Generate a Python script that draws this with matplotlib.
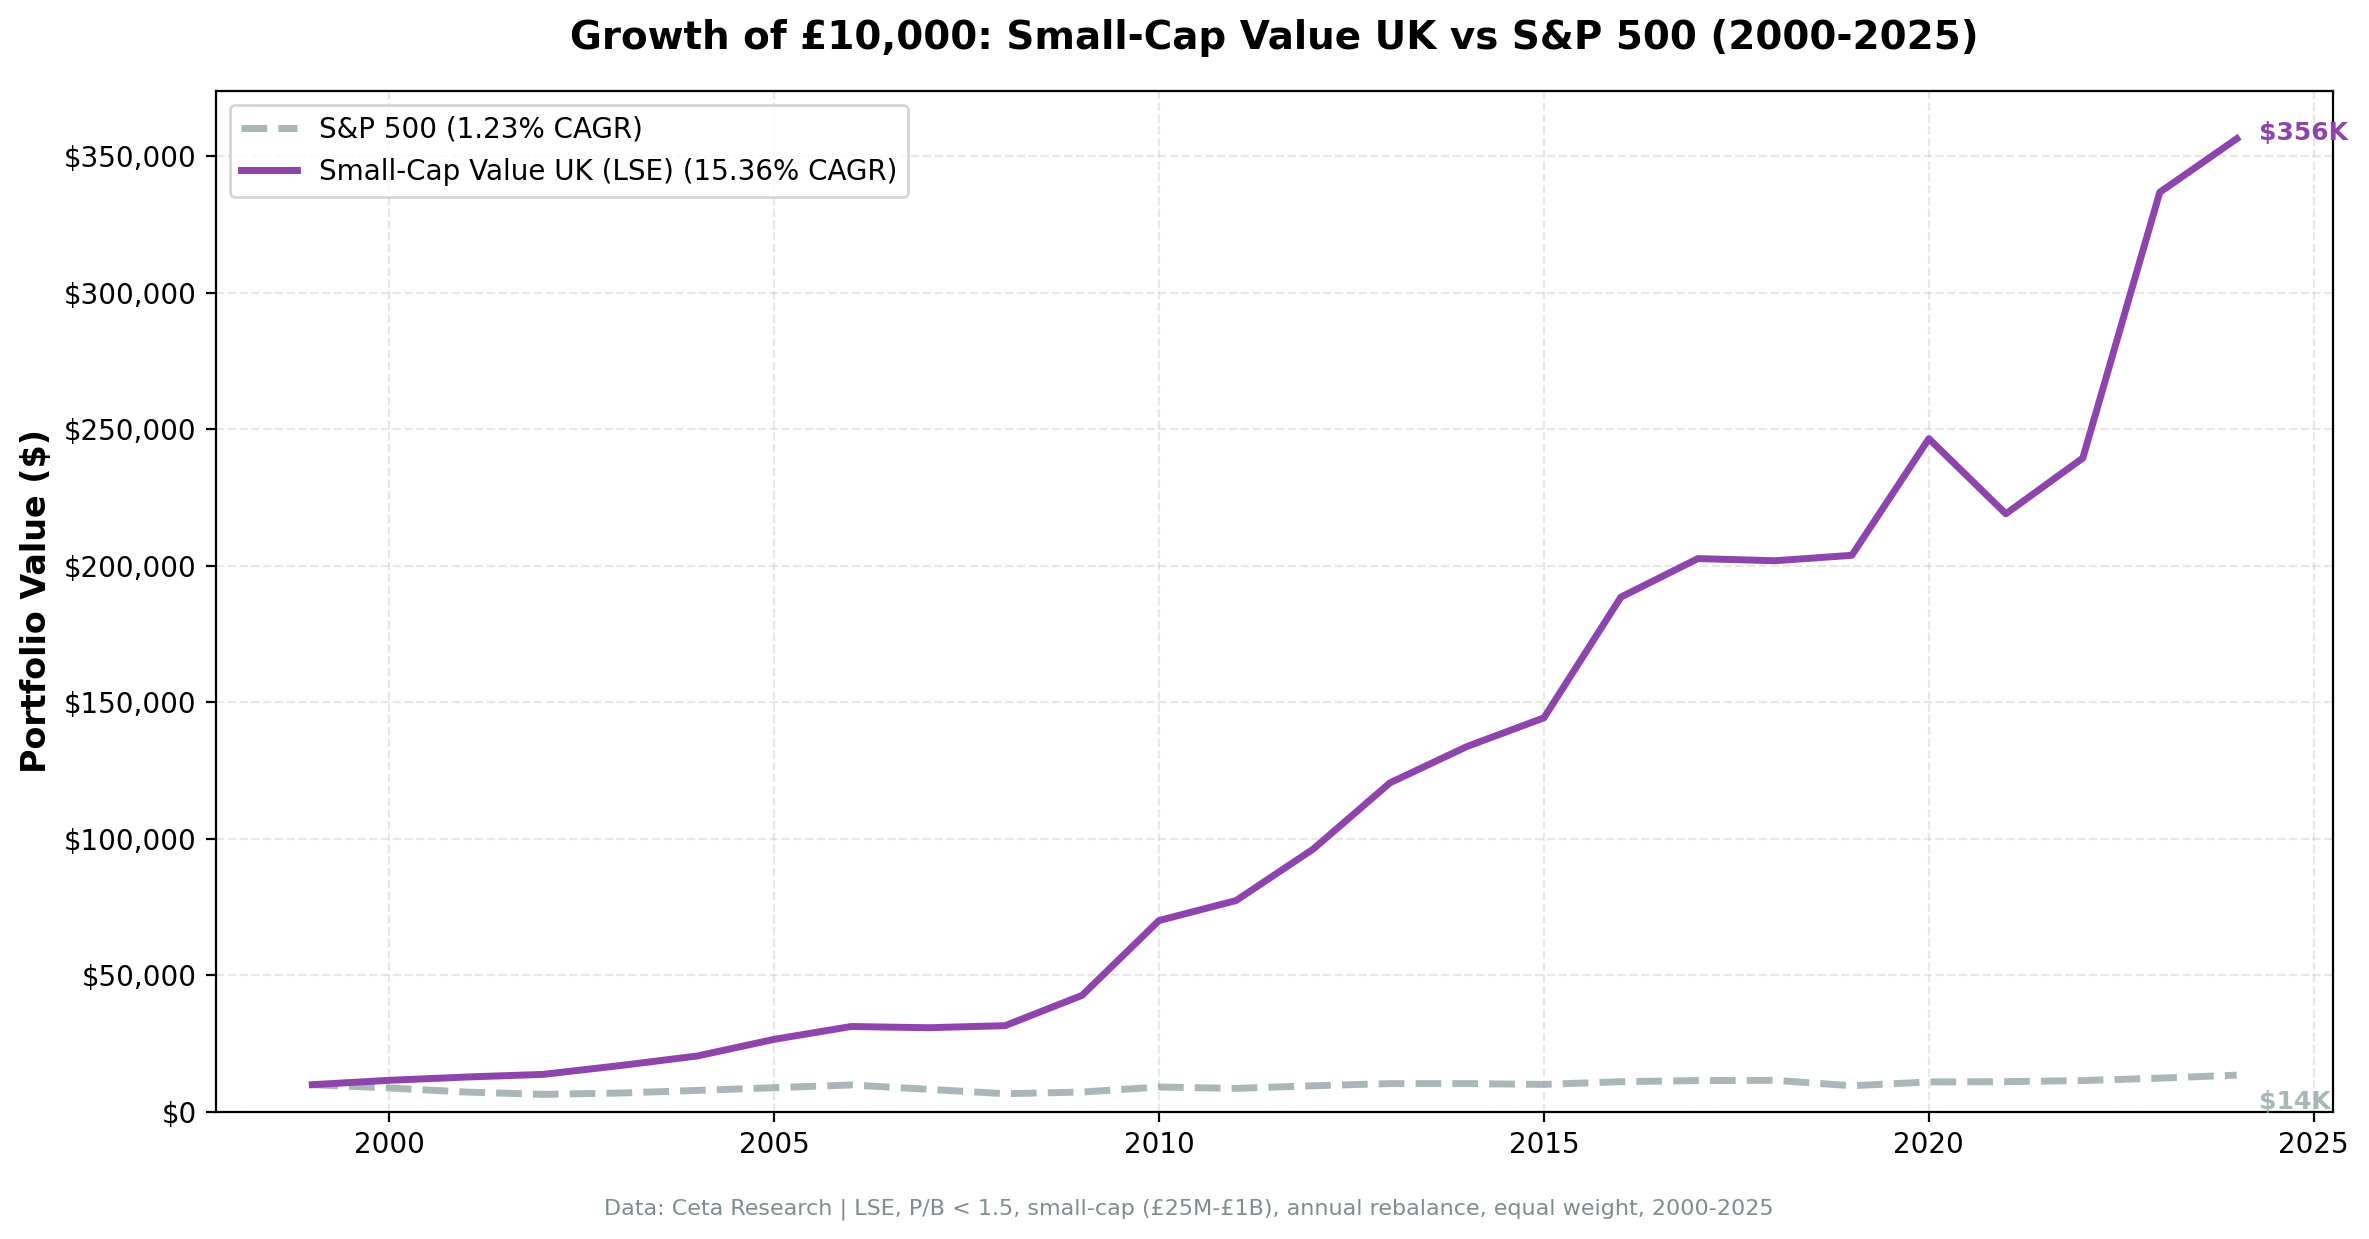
import matplotlib.pyplot as plt
from matplotlib.ticker import FuncFormatter

years = list(range(1999, 2025))
sp500 = [10000, 8800, 7300, 6460, 6950, 7900, 8900, 9900, 8300, 6700, 7300, 9150,
         8650, 9600, 10400, 10400, 10100, 11100, 11500, 11600, 9600, 11000, 11100,
         11500, 12400, 13500]
ukscv = [10000, 11600, 12800, 13780, 17000, 20500, 26600, 31300, 30850, 31600, 42700,
         70100, 77400, 96200, 120500, 133800, 144300, 188500, 202600, 201800, 203800,
         246500, 219000, 239400, 336700, 356300]

sp_label = 'S&P 500 (1.23% CAGR)'
uk_label = 'Small-Cap Value UK (LSE) (15.36% CAGR)'
purple = '#8E44AD'
grey = '#95A5A6'

fig = plt.figure(figsize=(11.845, 6.195), dpi=200)
fig.subplots_adjust(left=0.0912, right=0.9848, top=0.9266, bottom=0.1025)
ax = fig.gca()

ax.plot(years, sp500, '--', color=grey, lw=2.5, alpha=0.8, label=sp_label)
ax.plot(years, ukscv, '-', color=purple, lw=2.5, label=uk_label)

# end-of-line value labels
ax.annotate('$%dK' % round(ukscv[-1] / 1000), (years[-1], ukscv[-1]), xytext=(8, 2),
            textcoords='offset points', color=purple, fontsize=9, fontweight='bold',
            va='center', ha='left')
ax.annotate('$%dK' % round(sp500[-1] / 1000), (years[-1], sp500[-1]), xytext=(8, -14),
            textcoords='offset points', color=grey, alpha=0.8, fontsize=9,
            fontweight='bold', va='bottom', ha='left')

ax.set_ylim(bottom=0)
ax.yaxis.set_major_formatter(FuncFormatter(lambda v, p: '${:,.0f}'.format(v)))
ax.set_ylabel('Portfolio Value ($)', fontsize=12, fontweight='bold')
ax.set_title('Growth of £10,000: Small-Cap Value UK vs S&P 500 (2000-2025)',
             fontsize=14, fontweight='bold', pad=15)
ax.grid(True, ls='--', alpha=0.3)
ax.legend(loc='upper left', fontsize=10)

fig.text(0.502, 0.024, 'Data: Ceta Research | LSE, P/B < 1.5, small-cap (£25M-£1B), annual rebalance, equal weight, 2000-2025',
         ha='center', va='center', fontsize=8, color='#7F8C8D')

plt.savefig('out.png', dpi=200)
